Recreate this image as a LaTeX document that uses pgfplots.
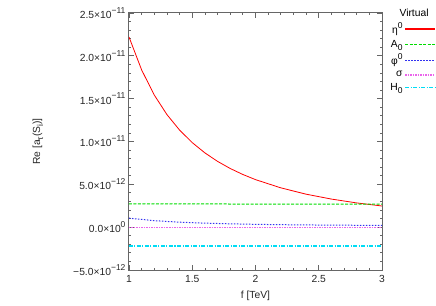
\documentclass[border=0pt]{standalone}
\usepackage{fontspec}
\setmainfont{Liberation Sans}
\usepackage{pgfplots}
\pgfplotsset{compat=1.18}
\definecolor{cred}{RGB}{255,0,0}
\definecolor{cgreen}{RGB}{0,220,0}
\definecolor{cblue}{RGB}{50,50,240}
\definecolor{cmag}{RGB}{235,100,235}
\definecolor{ccyan}{RGB}{0,220,245}
\newcommand{\sps}[1]{\raisebox{0.5em}{\fontsize{8.5}{9}\selectfont #1}}
\newcommand{\sbs}[1]{\raisebox{-0.3em}{\fontsize{8.5}{9}\selectfont #1}}
\tikzset{
  sEta/.style={draw=cred, line width=0.8pt},
  sA/.style={draw=cgreen, dash pattern=on 3pt off 1.5pt, line width=1pt},
  sPhi/.style={draw=cblue, dash pattern=on 1.5pt off 1.5pt, line width=1pt},
  sSig/.style={draw=cmag, dash pattern=on 1.5pt off 1pt, line width=1.2pt},
  sH/.style={draw=ccyan, dash pattern=on 4pt off 1.5pt on 1pt off 1.5pt, line width=1.1pt},
}
\begin{document}
\begin{tikzpicture}[x=1pt,y=1pt]
\path[use as bounding box] (-129,-35) rectangle (307,270);
\begin{axis}[
  at={(0,0)}, anchor=south west,
  scale only axis, width=253pt, height=257pt,
  xmin=1, xmax=3, ymin=-5e-12, ymax=2.5e-11,
  xtick={1,1.5,2,2.5,3},
  xticklabels={1,1.5,2,2.5,3},
  ytick={-5e-12,0,5e-12,1e-11,1.5e-11,2e-11,2.5e-11},
  yticklabels={−5.0×10\sps{−12},0.0×10\sps{0},5.0×10\sps{−12},1.0×10\sps{−11},1.5×10\sps{−11},2.0×10\sps{−11},2.5×10\sps{−11}},
  minor x tick num=4, minor y tick num=4,
  tick align=inside, ticks=both,
  major tick length=5pt, minor tick length=2.5pt,
  axis line style={draw=black!60, line width=1pt},
  every tick/.style={black!60, line width=0.8pt},
  tick label style={font=\fontsize{10.3}{12}\selectfont, black!85},
  xticklabel style={yshift=-2pt},
  xlabel={f [TeV]}, ylabel={Re [a\sbs{τ}(S\sbs{i})]},
  label style={font=\fontsize{10.3}{12}\selectfont, black!85},
  xlabel style={at={(rel axis cs:0.5,-0.1)}, anchor=center},
  ylabel style={at={(rel axis cs:-0.36,0.5)}, anchor=center},
  scaled y ticks=false,
  legend plot pos=right,
  legend cell align=right,
  legend style={at={(rel axis cs:1.2134,1.025)}, anchor=north east, draw=none, fill=none,
    font=\fontsize{10.3}{12}\selectfont, row sep=1pt, inner sep=0pt},
  legend image code/.code={\draw[#1] (0pt,0pt) -- (30pt,0pt);},
  legend image post style={line width=1.2pt},
]
\addlegendimage{empty legend}
\addlegendentry{\makebox[0pt][l]{\hspace{-3pt}Virtual}}
\addlegendimage{sEta}
\addlegendentry{η\sps{0}}
\addlegendimage{sA}
\addlegendentry{A\sbs{0}}
\addlegendimage{sPhi}
\addlegendentry{φ\sps{0}}
\addlegendimage{sSig}
\addlegendentry{σ}
\addlegendimage{sH}
\addlegendentry{H\sbs{0}}
\addplot[sEta, forget plot] coordinates {
(1.0,2.22e-11) (1.1,1.835e-11) (1.2,1.542e-11) (1.3,1.314e-11) (1.4,1.133e-11) (1.5,0.987e-11)
(1.6,0.867e-11) (1.7,0.768e-11) (1.8,0.685e-11) (1.9,0.615e-11) (2.0,0.555e-11)
(2.2,0.459e-11) (2.4,0.385e-11) (2.6,0.328e-11) (2.8,0.283e-11) (3.0,0.247e-11)};
\addplot[sA, forget plot] coordinates {(1,2.72e-12) (3,2.68e-12)};
\addplot[sPhi, forget plot] coordinates {
(1.0,1.05e-12) (1.2,0.76e-12) (1.4,0.58e-12) (1.6,0.47e-12) (1.8,0.39e-12) (2.0,0.33e-12)
(2.2,0.29e-12) (2.4,0.26e-12) (2.6,0.24e-12) (2.8,0.22e-12) (3.0,0.20e-12)};
\addplot[sSig, forget plot] coordinates {(1,0) (3,0)};
\addplot[sH, forget plot] coordinates {(1,-2.2e-12) (3,-2.2e-12)};
\end{axis}
\end{tikzpicture}
\end{document}
